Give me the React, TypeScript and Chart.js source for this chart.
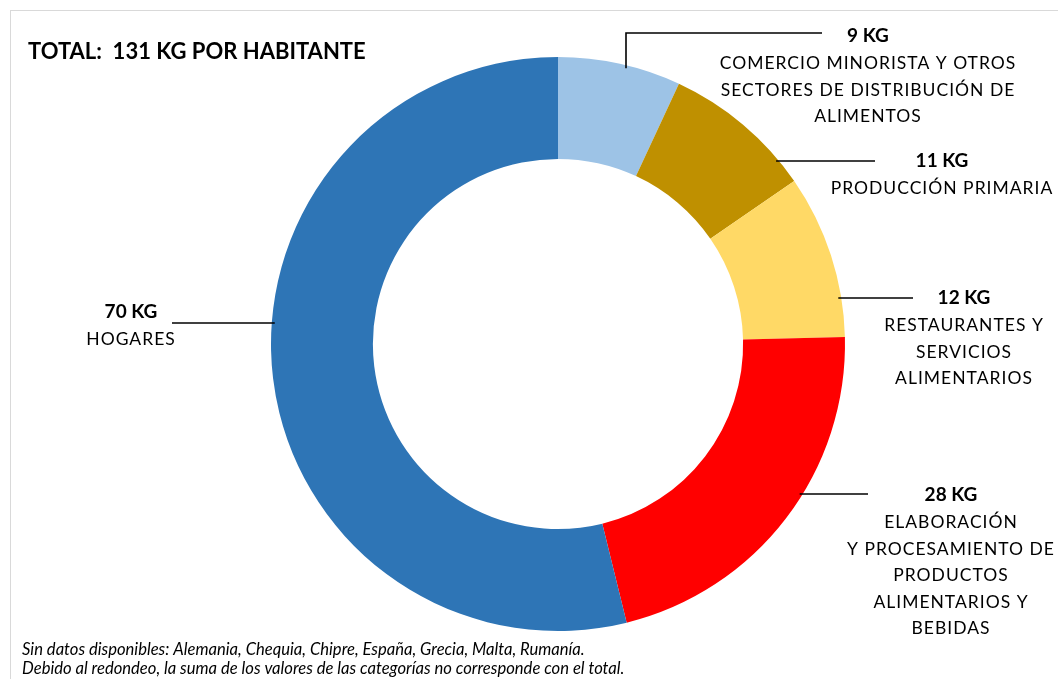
import React, { useEffect, useRef } from "react";
import { Chart, registerables } from "chart.js";

Chart.register(...registerables);

// ---- data ----
const categories = [
  "Comercio minorista y otros sectores de distribución de alimentos",
  "Producción primaria",
  "Restaurantes y servicios alimentarios",
  "Elaboración y procesamiento de productos alimentarios y bebidas",
  "Hogares",
];
const values = [9, 11, 12, 28, 70];
const labelTexts = [
  ["COMERCIO MINORISTA Y OTROS", "SECTORES DE DISTRIBUCIÓN DE", "ALIMENTOS"],
  ["PRODUCCIÓN PRIMARIA"],
  ["RESTAURANTES Y", "SERVICIOS", "ALIMENTARIOS"],
  ["ELABORACIÓN", "Y PROCESAMIENTO DE", "PRODUCTOS", "ALIMENTARIOS Y", "BEBIDAS"],
  ["HOGARES"],
];
const unit = "KG";
const titleText = "TOTAL:  131 KG POR HABITANTE";
const footnotes = [
  "Sin datos disponibles: Alemania, Chequia, Chipre, España, Grecia, Malta, Rumanía.",
  "Debido al redondeo, la suma de los valores de las categorías no corresponde con el total.",
];

// ---- styles / layout ----
const colors = ["#9DC3E6", "#BF9000", "#FFD966", "#FF0000", "#2E75B6"];
const FONT = "Lato, 'Noto Sans', sans-serif";
const W = 1058;
const H = 679;

type Layout = {
  kind: "elbow" | "h";
  lineY: number;
  anchorX?: number;
  endX: number;
  side: 1 | -1;
  textX: number;
  valueY: number;
};
const layouts: Layout[] = [
  { kind: "elbow", anchorX: 626, lineY: 33, endX: 822, side: 1, textX: 868, valueY: 36 },
  { kind: "h", lineY: 161, endX: 875, side: 1, textX: 942, valueY: 161 },
  { kind: "h", lineY: 298, endX: 913, side: 1, textX: 964, valueY: 298 },
  { kind: "h", lineY: 494, endX: 868, side: 1, textX: 951, valueY: 495 },
  { kind: "h", lineY: 323, endX: 172, side: -1, textX: 131, valueY: 312 },
];
const LINE_GAP = 26.5;

const decorPlugin = {
  id: "decor",
  beforeDraw(chart: any) {
    const ctx = chart.ctx;
    ctx.save();
    ctx.fillStyle = "#ffffff";
    ctx.fillRect(0, 0, W, H);
    ctx.restore();
  },
  afterDraw(chart: any) {
    const ctx = chart.ctx as CanvasRenderingContext2D;
    const meta = chart.getDatasetMeta(0);
    const arc0 = meta.data[0] as any;
    const cx = arc0.x;
    const cy = arc0.y;
    const R = arc0.outerRadius;
    ctx.save();
    // frame
    ctx.strokeStyle = "#D9D9D9";
    ctx.lineWidth = 1;
    ctx.strokeRect(10.5, 10.5, W + 20, H + 20);

    // title
    ctx.fillStyle = "#000";
    ctx.font = `bold 22px ${FONT}`;
    ctx.textAlign = "left";
    ctx.textBaseline = "middle";
    (ctx as any).letterSpacing = "0px";
    ctx.fillText(titleText, 28, 52);

    // leader lines and labels
    ctx.strokeStyle = "#000";
    ctx.lineWidth = 1.6;
    values.forEach((v, i) => {
      const L = layouts[i];
      ctx.beginPath();
      if (L.kind === "elbow") {
        const ax = L.anchorX as number;
        const ay = cy - Math.sqrt(R * R - (ax - cx) * (ax - cx)) + 3;
        ctx.moveTo(ax, ay);
        ctx.lineTo(ax, L.lineY);
        ctx.lineTo(L.endX, L.lineY);
      } else {
        const dy = L.lineY - cy;
        const sx = cx + L.side * (Math.sqrt(R * R - dy * dy) - 3);
        ctx.moveTo(sx, L.lineY);
        ctx.lineTo(L.endX, L.lineY);
      }
      ctx.stroke();

      ctx.textAlign = "center";
      ctx.textBaseline = "middle";
      ctx.font = `bold 19px ${FONT}`;
      (ctx as any).letterSpacing = "0px";
      ctx.fillText(`${v} ${unit}`, L.textX, L.valueY);
      ctx.font = `17.5px ${FONT}`;
      (ctx as any).letterSpacing = "1px";
      labelTexts[i].forEach((t, j) => {
        ctx.fillText(t, L.textX, L.valueY + LINE_GAP * (j + 1) + 1);
      });
    });

    // footnotes
    ctx.font = `italic 16.6px ${FONT}`;
    (ctx as any).letterSpacing = "0px";
    ctx.textAlign = "left";
    footnotes.forEach((t, j) => {
      ctx.fillText(t, 22, 650 + j * 19);
    });
    ctx.restore();
  },
};

export default function App() {
  const ref = useRef<HTMLCanvasElement | null>(null);
  useEffect(() => {
    if (!ref.current) return;
    const chart = new Chart(ref.current, {
      type: "doughnut",
      data: {
        labels: categories,
        datasets: [
          {
            data: values,
            backgroundColor: colors,
            borderWidth: 0,
          },
        ],
      },
      options: {
        responsive: false,
        animation: false,
        cutout: "64.5%",
        layout: { padding: { left: 271, right: 213, top: 57, bottom: 48 } },
        plugins: {
          legend: { display: false },
          tooltip: { enabled: false },
          title: { display: false },
        },
      },
      plugins: [decorPlugin],
    });
    return () => chart.destroy();
  }, []);
  return (
    <div style={{ position: "fixed", left: 0, top: 0, width: W, height: H }}>
      <canvas ref={ref} width={W} height={H} style={{ width: W, height: H, display: "block" }} />
    </div>
  );
}
